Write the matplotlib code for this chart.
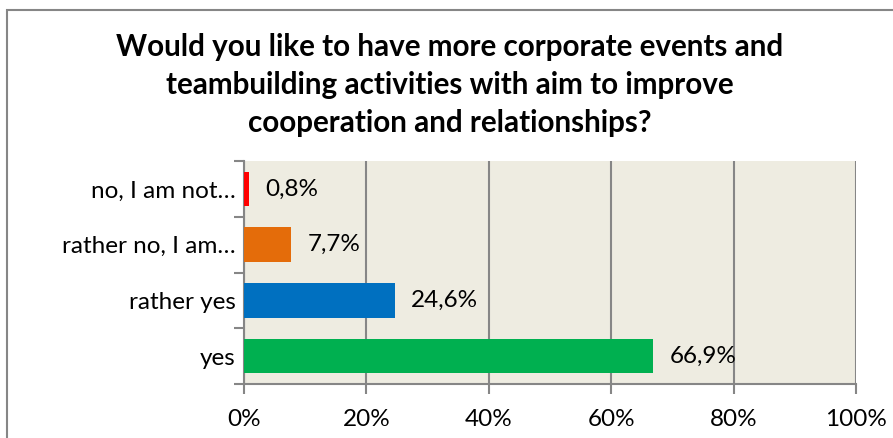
import matplotlib.pyplot as plt
from matplotlib.patches import Rectangle
from matplotlib.ticker import PercentFormatter

categories = ['yes', 'rather yes', 'rather no, I am…', 'no, I am not…']
shares = [66.9, 24.6, 7.7, 0.8]
colors = ['#00B050', '#0070C0', '#E46C0A', '#FF0000']
title = ('Would you like to have more corporate events and\n'
         'teambuilding activities with aim to improve\n'
         'cooperation and relationships?')

plt.rcParams['font.family'] = ['Lato', 'DejaVu Sans']

W, H = 893, 438
fig = plt.figure(figsize=(W / 100, H / 100), dpi=100)

# outer chart border (runs off the right and bottom edges)
fig.patches.append(Rectangle((6.5 / W, -0.1), 1.2, 1 - 9.5 / H + 0.1,
                             transform=fig.transFigure, fill=False,
                             edgecolor='#868686', linewidth=1.5))

fig.text(450 / W, 1 - 85 / H, title, ha='center', va='center',
         fontsize=21.3, fontweight='bold', linespacing=1.45)

ax = fig.add_axes([244 / W, 1 - 384 / H, (856 - 244) / W, (384 - 161) / H])
ax.set_facecolor('#EEECE1')

y = range(len(categories))
bars = ax.barh(y, shares, height=0.62, color=colors, zorder=3)
for b, v in zip(bars, shares):
    ax.text(v + 2.7, b.get_y() + b.get_height() / 2,
            f'{v:.1f}%'.replace('.', ','), va='center', ha='left',
            fontsize=17.5, zorder=4)

ax.set_xlim(0, 100)
ax.set_ylim(-0.5, len(categories) - 0.5)
ax.set_xticks(range(0, 101, 20))
ax.xaxis.set_major_formatter(PercentFormatter(decimals=0))
ax.set_yticks(list(y))
ax.set_yticklabels(categories)
ax.set_yticks([i - 0.5 for i in range(len(categories) + 1)], minor=True)

ax.grid(axis='x', color='#868686', linewidth=1.5, zorder=1)
for s in ['top', 'right']:
    ax.spines[s].set_visible(False)
for s in ['left', 'bottom']:
    ax.spines[s].set_color('#868686')
    ax.spines[s].set_linewidth(1.5)

ax.tick_params(axis='x', length=7, width=1.5, color='#868686',
               labelsize=17.5, pad=11)
ax.tick_params(axis='y', which='major', length=0, labelsize=17.5, pad=6)
ax.tick_params(axis='y', which='minor', length=7, width=1.5, color='#868686')

fig.savefig('out.png', dpi=100)
